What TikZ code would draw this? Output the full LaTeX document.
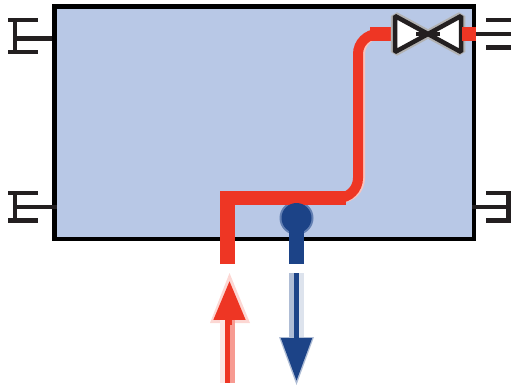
\documentclass[tikz,border=0pt]{standalone}
\usetikzlibrary{arrows.meta}
\definecolor{tankfill}{HTML}{B8C8E6}
\definecolor{pipered}{HTML}{EE3624}
\definecolor{pipeblue}{HTML}{1C4387}
\definecolor{portdark}{HTML}{231F20}
\tikzset{
  port/.style={draw=portdark,line width=0.09cm},
  redpipe/.style={draw=pipered,line width=0.29cm},
  bluepipe/.style={draw=pipeblue,line width=0.3cm},
  valvepart/.style={draw=portdark,fill=white,line width=0.09cm,line join=bevel},
  valveedge/.style={draw=gray!60,line width=0.17cm,line join=bevel}
}
\begin{document}
\begin{tikzpicture}[x=0.02cm,y=-0.02cm]
  \useasboundingbox (0,0) rectangle (513,385);

  \node (tank) at (264.25,122.75) [draw=black,fill=tankfill,line width=0.09cm,minimum width=8.39cm,minimum height=4.65cm,inner sep=0pt,outer sep=0pt]{};

  % ports left
  \coordinate (lt) at (15,38.5);
  \coordinate (lb) at (15,207);
  \draw[port] (8,20) -- (38,20);
  \draw[port] (8,52) -- (38,52);
  \draw[port] (15,20) -- (15,52);
  \draw[port] (lt) -- (52,38.5);
  \draw[port] (8,193) -- (38,193);
  \draw[port] (8,220.5) -- (38,220.5);
  \draw[port] (15,193) -- (15,220.5);
  \draw[port] (lb) -- (57,207);

  % ports right
  \coordinate (rt) at (511,34);
  \coordinate (rb) at (508.5,207);
  \draw[port] (486,20) -- (511,20);
  \draw[port] (476,34) -- (rt);
  \draw[port] (486,47.5) -- (511,47.5);
  \draw[port] (486,193) -- (511,193);
  \draw[port] (486,220.5) -- (511,220.5);
  \draw[port] (508.5,193) -- (508.5,220.5);
  \draw[port] (472,207) -- (rb);

  % hot pipe
  \coordinate (redin) at (227.5,264);
  \coordinate (redcorner) at (227.5,198);
  \coordinate (valvel) at (393,34);
  \coordinate (valver) at (462,34);
  \coordinate (tankr) at (476,34);
  \draw[draw=pipered!30,line width=0.2cm,rounded corners=0.4cm] (340,198) -| (360,34) -- (385,34);
  \node (cold) at (296.5,218) [circle,fill=pipeblue!55!tankfill,minimum size=0.68cm,inner sep=0pt]{};
  \draw[redpipe,line join=miter] (redin) -- (redcorner) -- (346,198);
  \draw[draw=pipered,line width=0.2cm,rounded corners=0.4cm] (338,198) -| (358,34) -- (valvel);
  \draw[redpipe] (370,34) -- (valvel);

  % cold pipe
  \node (coldcore) at (296.5,218) [circle,fill=pipeblue,minimum size=0.6cm,inner sep=0pt]{};
  \coordinate (blueout) at (296.5,264);
  \draw[bluepipe] (coldcore.center) -- (blueout);

  % valve
  \coordinate (valvemid) at (428,34);
  \draw[valveedge] (395,16) -- (395,52) -- (valvemid) -- cycle;
  \draw[valveedge] (461,16) -- (461,52) -- (valvemid) -- cycle;
  \draw[valvepart] (395,16) -- (395,52) -- (valvemid) -- cycle;
  \draw[valvepart] (461,16) -- (461,52) -- (valvemid) -- cycle;
  \draw[draw=portdark,line width=0.08cm] (416,34) -- (440,34);
  \draw[redpipe] (valver) -- (tankr);

  % flow arrows
  \coordinate (redtail) at (229.5,325);
  \coordinate (redtip) at (229.5,281);
  \coordinate (bluetop) at (296.5,273);
  \coordinate (bluetip) at (296.5,381);
  \fill[pipered!20] (229.5,273) -- (250,323) -- (210,323) -- cycle;
  \fill[pipered!12] (220,319) rectangle (225,383);
  \fill[pipered!50] (230,319) rectangle (235,383);
  \fill[pipered] (225,319) rectangle (230,383);
  \draw[draw=pipered,line width=0.1cm,-{Triangle[length=0.78cm,width=0.62cm]}] (redtail) -- (redtip);
  \fill[pipeblue!35] (289,273) rectangle (294,340);
  \fill[pipeblue!15] (299,273) rectangle (304,340);
  \fill[pipeblue!35] (279,337) -- (314,337) -- (296.5,385) -- cycle;
  \draw[draw=pipeblue,line width=0.1cm,-{Triangle[length=0.86cm,width=0.6cm]}] (bluetop) -- (bluetip);
\end{tikzpicture}
\end{document}
